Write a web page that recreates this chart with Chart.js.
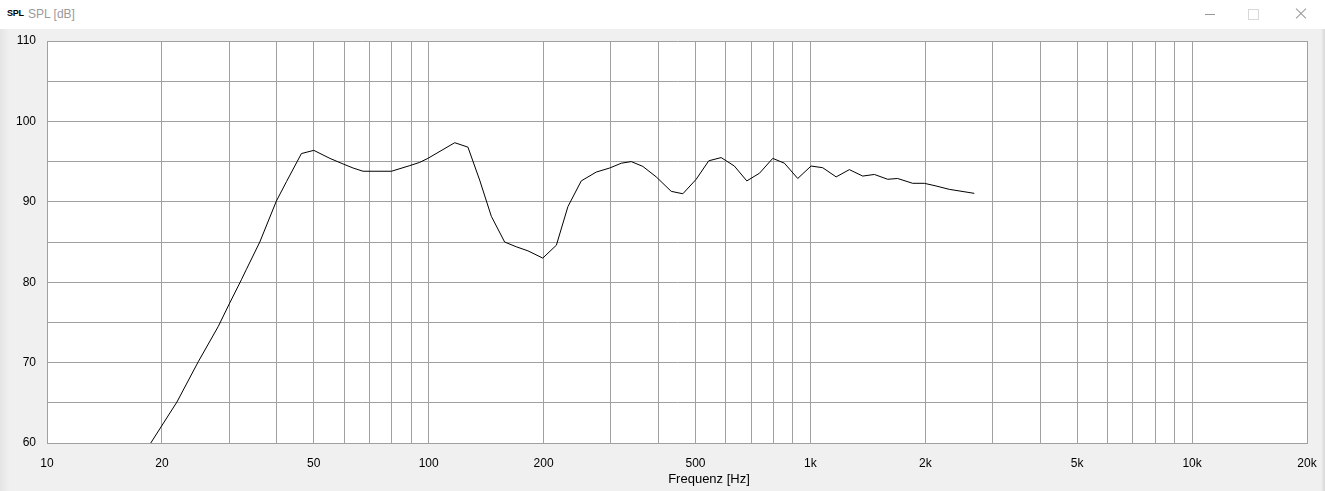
<!DOCTYPE html>
<html>
<head>
<meta charset="utf-8">
<script src="https://cdn.jsdelivr.net/npm/chart.js@4/dist/chart.umd.min.js"></script>
<style>
  html, body { margin: 0; padding: 0; }
  body { width: 1325px; height: 491px; overflow: hidden; position: relative;
         background: linear-gradient(to right, #e4e4e4 0px, #f0f0f0 9px, #f0f0f0 1321px, #dcdcdc 1324px); font-family: "Liberation Sans", Arial, sans-serif; }
  #titlebar { position: absolute; left: 0; top: 0; width: 1325px; height: 29px; background: #ffffff; z-index: 2; }
  #icon { position: absolute; left: 7px; top: 8px; font-size: 9px; font-weight: bold; color: #000; letter-spacing: -0.2px; }
  #wtitle { position: absolute; left: 28px; top: 7px; font-size: 12px; color: #9a9a9a; }
  #minb { position: absolute; left: 1205px; top: 14px; width: 10px; height: 1px; background: #9a9a9a; }
  #maxb { position: absolute; left: 1248px; top: 9px; width: 9px; height: 9px; border: 1px solid #d8d8d8; }
  .xl { position: absolute; left: 1294px; top: 13px; width: 14px; height: 1px; background: #9a9a9a; }
  #chartc { position: absolute; left: 0; top: 0; z-index: 1; }
</style>
</head>
<body>
<div id="titlebar">
  <div id="icon">SPL</div>
  <div id="wtitle">SPL [dB]</div>
  <div id="minb"></div>
  <div id="maxb"></div>
  <div class="xl" style="transform: rotate(45deg);"></div>
  <div class="xl" style="transform: rotate(-45deg);"></div>
</div>
<canvas id="chartc" width="1325" height="491"></canvas>
<script>
// Frequency (Hz) and SPL (dB)
const freqHz = [18.7, 21.9, 24.9, 28.1, 30.1, 32.3, 33.3, 36.1, 39.9, 42.4, 46.4, 50, 55.1, 59.7, 63.4, 67.3, 79.9, 89.2, 94.7, 99.5,
  117, 126.7, 136, 145.9, 158.1, 169.7, 182, 199, 216, 231.6, 251, 274.8, 297.8, 319.6, 339.4, 364, 394.5, 431.9, 463.3, 502,
  541.7, 583.8, 632, 681.4, 735.4, 796.8, 855, 926.5, 1004, 1077, 1168, 1265, 1371, 1471, 1594, 1692, 1853, 1988, 2133, 2311, 2688];
const splDb = [60, 65.1, 70.1, 74.5, 77.4, 80.3, 81.6, 85.0, 90.1, 92.5, 96.0, 96.4, 95.4, 94.7, 94.2, 93.8, 93.8, 94.5, 94.9, 95.4,
  97.35, 96.8, 92.7, 88.2, 85.0, 84.4, 83.9, 83.0, 84.6, 89.4, 92.6, 93.7, 94.2, 94.8, 95.0, 94.4, 93.1, 91.3, 91.0, 92.8,
  95.1, 95.5, 94.45, 92.6, 93.55, 95.4, 94.8, 92.9, 94.45, 94.24, 93.1, 94.0, 93.2, 93.4, 92.8, 92.9, 92.3, 92.3, 91.97, 91.55, 91.05];
// Grid lines and labels
const xGrid = [10,20,30,40,50,60,70,80,90,100,200,300,400,500,600,700,800,900,1000,2000,3000,4000,5000,6000,7000,8000,9000,10000,20000];
const xLabels = {10:'10',20:'20',50:'50',100:'100',200:'200',500:'500',1000:'1k',2000:'2k',5000:'5k',10000:'10k',20000:'20k'};
const yGrid = [60,65,70,75,80,85,90,95,100,105,110];
const yLabels = {60:'60',70:'70',80:'80',90:'90',100:'100',110:'110'};
const xTitle = 'Frequenz [Hz]';

const points = freqHz.map((f, i) => ({x: f, y: splDb[i]}));
const gridColor = '#a0a0a0';
const font = {family: '"Liberation Sans", Arial, sans-serif', size: 12};

const bgPlugin = {
  id: 'bg',
  beforeDraw(chart) {
    const {ctx, chartArea: a} = chart;
    ctx.save();
    ctx.fillStyle = '#ffffff';
    ctx.fillRect(a.left, a.top, a.right - a.left, a.bottom - a.top);
    ctx.restore();
  },
  afterDraw(chart) {
    const ctx = chart.ctx;
    ctx.save();
    ctx.fillStyle = '#000';
    ctx.font = '13px "Liberation Sans", Arial, sans-serif';
    ctx.textAlign = 'center';
    ctx.textBaseline = 'middle';
    ctx.fillText(xTitle, 709, 479);
    ctx.restore();
  }
};

new Chart(document.getElementById('chartc'), {
  type: 'scatter',
  data: { datasets: [{ data: points, showLine: true, borderColor: '#000000', borderWidth: 1,
    pointRadius: 0, pointHoverRadius: 0, tension: 0, fill: false }] },
  options: {
    responsive: false, animation: false, devicePixelRatio: 1,
    layout: { padding: { top: 41, right: 18, left: 0, bottom: 0 } },
    plugins: { legend: { display: false }, tooltip: { enabled: false } },
    events: [],
    scales: {
      x: {
        type: 'logarithmic', min: 10, max: 20000,
        afterBuildTicks: (s) => { s.ticks = xGrid.map(v => ({value: v})); },
        afterFit: (s) => { s.height = 48; s.paddingLeft = 0; s.paddingRight = 0; },
        grid: { color: gridColor, lineWidth: 1, drawTicks: false },
        border: { color: gridColor, width: 1 },
        ticks: { autoSkip: false, maxRotation: 0, padding: 13, color: '#000', font,
          callback: (v) => xLabels[v] !== undefined ? xLabels[v] : '' }
      },
      y: {
        type: 'linear', min: 60, max: 110,
        afterBuildTicks: (s) => { s.ticks = yGrid.map(v => ({value: v})); },
        afterFit: (s) => { s.width = 47; s.paddingTop = 0; s.paddingBottom = 0; },
        grid: { color: gridColor, lineWidth: 1, drawTicks: false },
        border: { color: gridColor, width: 1 },
        ticks: { autoSkip: false, padding: 11, color: '#000', font,
          callback: (v) => yLabels[v] !== undefined ? yLabels[v] : '' }
      }
    }
  },
  plugins: [bgPlugin]
});
</script>
</body>
</html>
